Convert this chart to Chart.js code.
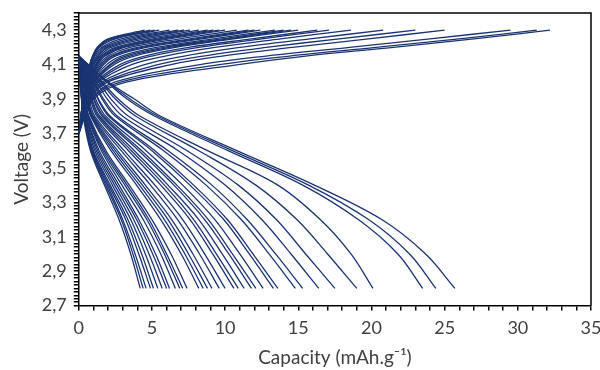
<!DOCTYPE html>
<html>
<head>
<meta charset="utf-8">
<script src="https://cdn.jsdelivr.net/npm/chart.js@4/dist/chart.umd.min.js"></script>
<style>
  html, body { margin: 0; padding: 0; background: #fff; }
  #wrap { width: 600px; height: 370px; position: relative; }
</style>
</head>
<body>
<div id="wrap"><canvas id="chart"></canvas></div>
<script>
// discharge curves: capacity reached at each voltage level (one row per cycle)
const dischargeVolts = [4.15, 4.0, 3.9, 3.8, 3.6, 3.4, 3.2, 3.0, 2.8];
const dischargeCaps = [
    [0, 0.08, 0.18, 0.3, 0.8, 1.75, 2.75, 3.55, 4.2],
    [0, 0.08, 0.2, 0.33, 0.85, 1.85, 2.9, 3.7, 4.4],
    [0, 0.1, 0.2, 0.35, 0.9, 1.95, 3.0, 3.85, 4.6],
    [0, 0.1, 0.22, 0.38, 0.95, 2.05, 3.2, 4.1, 4.9],
    [0, 0.12, 0.25, 0.4, 1.0, 2.15, 3.35, 4.3, 5.1],
    [0, 0.12, 0.26, 0.42, 1.1, 2.3, 3.55, 4.55, 5.4],
    [0, 0.14, 0.28, 0.45, 1.2, 2.45, 3.75, 4.8, 5.7],
    [0, 0.15, 0.3, 0.5, 1.3, 2.6, 3.95, 5.05, 6.0],
    [0, 0.16, 0.32, 0.52, 1.4, 2.75, 4.1, 5.25, 6.2],
    [0, 0.18, 0.35, 0.58, 1.55, 2.95, 4.4, 5.6, 6.6],
    [0, 0.2, 0.38, 0.62, 1.65, 3.15, 4.65, 5.85, 6.9],
    [0, 0.2, 0.4, 0.66, 1.75, 3.3, 4.8, 6.0, 7.1],
    [0, 0.22, 0.42, 0.7, 1.85, 3.45, 5.0, 6.3, 7.4],
    [0, 0.26, 0.5, 0.82, 2.2, 3.95, 5.6, 7.0, 8.2],
    [0, 0.28, 0.52, 0.86, 2.35, 4.15, 5.85, 7.25, 8.5],
    [0, 0.3, 0.55, 0.9, 2.5, 4.35, 6.1, 7.5, 8.8],
    [0, 0.32, 0.58, 0.95, 2.65, 4.55, 6.35, 7.8, 9.1],
    [0, 0.35, 0.62, 1.0, 2.9, 4.9, 6.75, 8.25, 9.6],
    [0, 0.4, 0.7, 1.1, 3.1, 5.2, 7.1, 8.6, 10.0],
    [0, 0.45, 0.8, 1.25, 3.4, 5.6, 7.6, 9.15, 10.6],
    [0, 0.5, 0.85, 1.35, 3.6, 5.85, 7.85, 9.4, 10.9],
    [0, 0.55, 0.9, 1.45, 3.8, 6.1, 8.2, 9.8, 11.3],
    [0, 0.6, 1.0, 1.6, 4.1, 6.5, 8.6, 10.25, 11.8],
    [0, 0.65, 1.05, 1.7, 4.3, 6.7, 8.85, 10.5, 12.1],
    [0, 0.7, 1.15, 1.85, 4.6, 7.1, 9.3, 11.0, 12.6],
    [0, 0.8, 1.3, 2.05, 5.0, 7.6, 9.9, 11.65, 13.3],
    [0, 0.85, 1.35, 2.15, 5.2, 7.85, 10.15, 11.9, 13.6],
    [0, 1.0, 1.6, 2.5, 5.8, 8.7, 11.1, 13.0, 14.8],
    [0, 1.05, 1.7, 2.65, 6.1, 9.1, 11.5, 13.45, 15.3],
    [0, 1.2, 1.95, 3.0, 6.8, 10.0, 12.5, 14.5, 16.4],
    [0, 1.35, 2.2, 3.4, 7.4, 10.9, 13.5, 15.5, 17.5],
    [0, 1.5, 2.5, 3.9, 8.2, 12.1, 14.9, 17.0, 19.0],
    [0, 1.6, 2.7, 4.2, 8.8, 13.6, 16.5, 18.6, 20.1],
    [0, 1.9, 3.3, 5.2, 10.2, 15.3, 19.1, 21.8, 23.5],
    [0, 1.95, 3.5, 5.4, 10.5, 15.7, 19.8, 22.6, 24.4],
    [0, 2.0, 3.8, 5.6, 10.8, 16.1, 20.7, 23.7, 25.7]
];

// charge curves: capacity reached at each voltage level
const chargeVolts = [3.7, 3.9, 4.0, 4.1, 4.15, 4.2, 4.25, 4.3];
const chargeCaps = [
    [0, 0.3, 0.5, 0.75, 0.95, 1.25, 2.0, 4.5],
    [0, 0.3, 0.5, 0.75, 0.95, 1.3, 2.1, 4.9],
    [0, 0.3, 0.5, 0.8, 1.0, 1.35, 2.3, 5.2],
    [0, 0.3, 0.5, 0.8, 1.05, 1.4, 2.5, 5.5],
    [0, 0.3, 0.55, 0.85, 1.1, 1.55, 2.9, 6.2],
    [0, 0.35, 0.55, 0.9, 1.2, 1.7, 3.3, 6.8],
    [0, 0.35, 0.55, 0.95, 1.3, 1.85, 3.7, 7.2],
    [0, 0.35, 0.6, 1.0, 1.35, 2.0, 4.1, 7.6],
    [0, 0.35, 0.6, 1.05, 1.45, 2.2, 4.6, 8.2],
    [0, 0.4, 0.65, 1.15, 1.55, 2.5, 5.1, 8.8],
    [0, 0.4, 0.65, 1.2, 1.6, 2.7, 5.5, 9.2],
    [0, 0.4, 0.7, 1.25, 1.7, 2.9, 5.8, 9.6],
    [0, 0.4, 0.7, 1.3, 1.8, 3.1, 6.2, 10.0],
    [0, 0.45, 0.75, 1.4, 2.0, 3.5, 6.9, 10.8],
    [0, 0.45, 0.8, 1.5, 2.2, 4.0, 7.6, 11.6],
    [0, 0.45, 0.85, 1.6, 2.3, 4.3, 8.0, 12.0],
    [0, 0.5, 0.9, 1.7, 2.5, 4.6, 8.4, 12.4],
    [0, 0.5, 0.95, 1.9, 2.9, 5.3, 9.2, 13.4],
    [0, 0.5, 1.0, 2.1, 3.2, 5.8, 9.8, 14.0],
    [0, 0.55, 1.05, 2.2, 3.5, 6.2, 10.2, 14.5],
    [0, 0.55, 1.1, 2.4, 3.8, 6.6, 10.6, 15.0],
    [0, 0.6, 1.2, 2.8, 4.5, 7.5, 11.8, 16.3],
    [0, 0.6, 1.3, 3.1, 5.0, 8.2, 12.5, 17.1],
    [0, 0.65, 1.4, 3.6, 5.9, 9.3, 13.8, 18.6],
    [0, 0.7, 1.6, 4.5, 7.2, 11.0, 15.8, 20.8],
    [0, 0.75, 1.8, 5.4, 8.5, 12.8, 17.8, 23.0],
    [0, 0.8, 2.0, 6.3, 9.8, 14.6, 19.8, 25.0],
    [0, 0.85, 2.5, 8.3, 12.8, 18.5, 24.0, 29.5],
    [0, 0.9, 2.9, 9.6, 14.4, 20.3, 26.0, 31.3],
    [0, 1.0, 3.3, 10.9, 15.5, 21.5, 27.0, 32.2]
];

const xMin = 0, xMax = 35, xLabelStep = 5;
const yMin = 2.7, yMax = 4.4;
const yLabels = ["2,7", "2,9", "3,1", "3,3", "3,5", "3,7", "3,9", "4,1", "4,3"];

const lineColor = "#1b3472";
const textColor = "#404040";
const fontName = "Lato, 'Open Sans', sans-serif";

const datasets = [];
for (let caps of dischargeCaps) {
    datasets.push({
        data: caps.map((c, i) => ({ x: c, y: dischargeVolts[i] }))
    });
}
for (let caps of chargeCaps) {
    datasets.push({
        data: caps.map((c, i) => ({ x: c, y: chargeVolts[i] }))
    });
}

// closes the box on top and right
const frame = {
    id: "frame",
    afterDraw(chart) {
        const { ctx, chartArea: a } = chart;
        ctx.save();
        ctx.strokeStyle = "#000";
        ctx.lineWidth = 1.5;
        ctx.beginPath();
        ctx.moveTo(a.left, a.top);
        ctx.lineTo(a.right, a.top);
        ctx.lineTo(a.right, a.bottom);
        ctx.stroke();
        ctx.restore();
    }
};

new Chart(document.querySelector("#chart"), {
    type: "line",
    data: { datasets: datasets },
    plugins: [frame],
    options: {
        responsive: true,
        maintainAspectRatio: false,
        animation: false,
        layout: { padding: { left: 4, right: 0, top: 13, bottom: 1 } },
        elements: {
            point: { radius: 0 },
            line: { borderColor: lineColor, borderWidth: 1.3, tension: 0.35, fill: false }
        },
        plugins: {
            legend: { display: false },
            tooltip: { enabled: false }
        },
        scales: {
            x: {
                type: "linear",
                min: xMin,
                max: xMax,
                // only leave room for half of the last label on the right
                afterFit: (scale) => { scale.paddingRight = 9; },
                grid: { drawOnChartArea: false, drawTicks: true, tickLength: 5, color: "#000", lineWidth: 1.5 },
                border: { display: true, color: "#000", width: 1.5 },
                ticks: {
                    stepSize: 1,
                    autoSkip: false,
                    maxRotation: 0,
                    color: textColor,
                    font: { family: fontName, size: 18 },
                    padding: 7,
                    callback: (v) => (Math.round(v) % xLabelStep === 0 ? String(Math.round(v)) : "")
                },
                title: {
                    display: true,
                    text: "Capacity (mAh.g\u207B\u00B9)",
                    color: textColor,
                    font: { family: fontName, size: 19 },
                    padding: { top: 0, bottom: 0 }
                }
            },
            y: {
                min: yMin,
                max: yMax,
                // the top tick has no label, so no room is needed above it
                afterFit: (scale) => { scale.paddingTop = 0; },
                grid: { drawOnChartArea: false, drawTicks: true, tickLength: 5, color: "#000", lineWidth: 1.5 },
                border: { display: true, color: "#000", width: 1.5 },
                ticks: {
                    stepSize: 0.02,
                    autoSkip: false,
                    color: textColor,
                    font: { family: fontName, size: 18 },
                    padding: 7,
                    callback: (v) => {
                        const k = Math.round(v * 100) - 270;
                        return k % 20 === 0 && k / 20 < yLabels.length ? yLabels[k / 20] : "";
                    }
                },
                title: {
                    display: true,
                    text: "Voltage (V)",
                    color: textColor,
                    font: { family: fontName, size: 19 },
                    padding: { top: 6, bottom: 2 }
                }
            }
        }
    }
});
</script>
</body>
</html>
